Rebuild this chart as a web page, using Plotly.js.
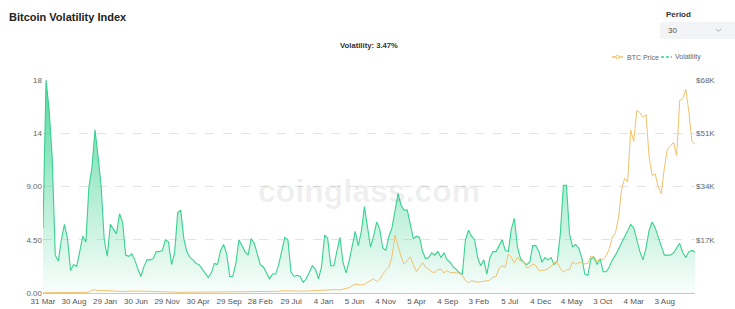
<!DOCTYPE html>
<html><head><meta charset="utf-8">
<script src="https://cdn.plot.ly/plotly-3.0.1.min.js"></script>
<style>html,body{margin:0;padding:0;background:#fff;}#chart{width:735px;height:309px;}</style>
</head><body><div id="chart"></div>
<script>
// ---- data ----
const startDate = '2013-03-31';
const stepDays = 15;
const volatility = [
5.5, 18, 15.5, 11.5, 3.2, 2.7, 4.5, 5.8, 4.6, 1.9,
2.4, 2.25, 3.5, 4.8, 4.3, 9, 10.6, 13.8, 11.5, 9,
4.5, 3.1, 5.8, 5.4, 5.0, 6.7, 6.0, 3.2, 3.1, 3.3,
2.8, 2.0, 1.4, 2.25, 2.8, 2.8, 2.9, 3.5, 3.5, 3.6,
4.5, 4.3, 2.4, 3.4, 6.8, 7.0, 4.6, 3.5, 3.0, 2.8,
2.5, 2.4, 2.0, 1.7, 1.3, 1.7, 2.5, 2.4, 3.6, 4.1,
3.3, 1.4, 1.4, 2.5, 4.5, 4.0, 3.5, 3.2, 4.6, 4.2,
3.2, 2.4, 2.2, 1.7, 1.2, 1.6, 1.6, 2.4, 3.7, 4.7,
4.5, 1.8, 1.4, 1.5, 1.4, 0.9, 1.2, 1.8, 2.3, 2.0,
1.2, 2.2, 4.9, 4.6, 2.3, 2.3, 3.6, 4.7, 2.6, 1.7,
2.7, 4.1, 5.2, 4.0, 5.2, 7.3, 5.5, 3.9, 4.8, 6.0,
5.4, 3.8, 3.6, 4.8, 5.5, 7.0, 8.4, 7.4, 7.0, 7.0,
5.8, 4.6, 4.8, 4.7, 3.5, 2.9, 3.0, 3.4, 3.2, 3.5,
3.0, 3.4, 2.8, 2.6, 2.2, 2.0, 1.7, 1.6, 4.5, 5.3,
4.8, 4.5, 3.0, 2.3, 2.8, 1.6, 3.0, 3.5, 3.5, 4.0,
4.5, 3.6, 3.5, 5.4, 6.3, 3.9, 2.9, 2.6, 2.4, 2.6,
4.0, 4.0, 3.5, 2.6, 3.0, 2.8, 3.0, 2.4, 2.7, 5.0,
9.1, 9.1, 5.0, 3.9, 4.1, 3.8, 3.0, 1.6, 1.5, 2.9,
3.0, 2.4, 2.9, 1.8, 1.8, 2.2, 2.8, 3.2, 3.7, 4.3,
4.7, 5.2, 5.8, 5.5, 4.5, 3.5, 2.8, 3.8, 5.3, 6.0,
5.5, 4.7, 4.1, 3.2, 3.2, 3.2, 3.4, 3.8, 4.2, 3.4,
3.0, 3.5, 3.6, 3.47
];
const btcPrice = [
93, 90, 140, 115, 130, 100, 95, 95, 100, 105,
125, 135, 135, 140, 190, 340, 900, 1000, 730, 850,
810, 680, 530, 630, 580, 380, 460, 450, 580, 660,
590, 620, 600, 590, 510, 480, 435, 330, 385, 340,
350, 375, 325, 275, 210, 225, 240, 275, 260, 255,
225, 235, 235, 225, 245, 260, 275, 280, 255, 230,
230, 238, 270, 325, 330, 360, 450, 430, 380, 380,
400, 435, 415, 415, 425, 450, 455, 530, 700, 650,
660, 655, 590, 570, 605, 600, 615, 675, 715, 740,
775, 895, 900, 920, 1050, 1170, 1100, 960, 1190, 1250,
1700, 2300, 2800, 2700, 2550, 2750, 3400, 4100, 4600, 3600,
4400, 6000, 7400, 8200, 11700, 18500, 15200, 11500, 9200, 10400,
11500, 9000, 6800, 8200, 9700, 8200, 7700, 6700, 6600, 7400,
7600, 6400, 7200, 6500, 6600, 6500, 6300, 5600, 4000, 3250,
3900, 3600, 3450, 3600, 3850, 3900, 4100, 5100, 5200, 7900,
8700, 8200, 12400, 11400, 9500, 11400, 10200, 10100, 8100, 8300,
9200, 8800, 7100, 7300, 7250, 7800, 8400, 9900, 9700, 7900,
6700, 7300, 7500, 9900, 9200, 9700, 9700, 9250, 9500, 11750,
11600, 10100, 10900, 10700, 11900, 14100, 17800, 19200, 23800, 33000,
36600, 35500, 52000, 48400, 58300, 57600, 56000, 57000, 43500, 37500,
38000, 33800, 31700, 40000, 46000, 47000, 48100, 43800, 61500, 62000,
65000, 57800, 48400, 47500
];
const tickDates = ['2013-03-31','2013-08-30','2014-01-29','2014-06-30','2014-11-29','2015-04-30','2015-09-29','2016-02-28','2016-07-29','2017-01-04','2017-06-05','2017-11-04','2018-04-05','2018-09-04','2019-02-03','2019-07-05','2019-12-04','2020-05-04','2020-10-03','2021-03-04','2021-08-03'];
const tickLabels = ['31 Mar','30 Aug','29 Jan','30 Jun','29 Nov','30 Apr','29 Sep','28 Feb','29 Jul','4 Jan','5 Jun','4 Nov','5 Apr','4 Sep','3 Feb','5 Jul','4 Dec','4 May','3 Oct','4 Mar','3 Aug'];
const volTickVals = [0, 4.5, 9, 13.5, 18];
const volTickText = ['0.00', '4.50', '9.00', '14', '18'];
const priceTickVals = [17000, 34000, 51000, 68000];
const priceTickText = ['$17K', '$34K', '$51K', '$68K'];
const currentVol = '3.47%';

// ---- build ----
const t0 = new Date(startDate + 'T00:00:00Z').getTime();
const dates = volatility.map((_, i) => new Date(t0 + i * stepDays * 86400000).toISOString().slice(0, 10));
const lastDate = dates[dates.length - 1];

const L = 43, R = 695, T = 80, B = 293;
const px = p => (p - L) / (R - L);
const py = p => (B - p) / (B - T);

const GREEN = '#38d190';
const ORANGE = '#f1c26c';

const traces = [
  {
    x: dates, y: volatility, type: 'scatter', mode: 'lines', name: 'Volatility',
    line: {color: GREEN, width: 1.1},
    fill: 'tozeroy',
    fillgradient: {type: 'vertical', start: 0, stop: 18,
      colorscale: [[0, 'rgba(56,209,144,0.03)'], [0.5, 'rgba(56,209,144,0.42)'], [1, 'rgba(56,209,144,0.88)']]},
    hoverinfo: 'skip'
  },
  {
    x: dates, y: btcPrice, type: 'scatter', mode: 'lines', name: 'BTC Price',
    line: {color: ORANGE, width: 1}, yaxis: 'y2', hoverinfo: 'skip'
  }
];

const font = 'Liberation Sans, Arial, sans-serif';
const layout = {
  width: 735, height: 309,
  margin: {l: L, r: 735 - R, t: T, b: 309 - B},
  paper_bgcolor: '#fff', plot_bgcolor: '#fff',
  showlegend: false,
  font: {family: font, size: 8, color: '#555'},
  xaxis: {
    type: 'date', range: [startDate, lastDate],
    tickvals: tickDates, ticktext: tickLabels, tickangle: 0,
    showgrid: false, zeroline: false, showline: true, linecolor: '#c8c8c8', linewidth: 1,
    ticks: '', tickfont: {size: 8, color: '#555'}
  },
  yaxis: {
    range: [0, 18], tickvals: volTickVals, ticktext: volTickText,
    showgrid: true, gridcolor: '#e4e4e4', griddash: 'dash', gridwidth: 1,
    zeroline: false, showline: false, ticks: '', tickfont: {size: 8, color: '#666'}
  },
  yaxis2: {
    overlaying: 'y', side: 'right', range: [0, 68000],
    tickvals: priceTickVals, ticktext: priceTickText,
    showgrid: false, zeroline: false, showline: false, ticks: '', tickfont: {size: 8, color: '#666'}
  },
  shapes: [
    {type: 'line', xref: 'paper', yref: 'paper', x0: px(612), x1: px(623), y0: py(57), y1: py(57), line: {color: ORANGE, width: 1.5}},
    {type: 'circle', xref: 'paper', yref: 'paper', x0: px(615.8), x1: px(619.2), y0: py(58.7), y1: py(55.3), fillcolor: '#fff', line: {color: ORANGE, width: 1}},
    {type: 'line', xref: 'paper', yref: 'paper', x0: px(661), x1: px(672), y0: py(57), y1: py(57), line: {color: GREEN, width: 1.5, dash: '3px,2px'}},
    {type: 'path', xref: 'paper', yref: 'paper', layer: 'below',
      path: `M ${px(663)} ${py(22)} L ${px(740)} ${py(22)} L ${px(740)} ${py(39)} L ${px(663)} ${py(39)} Q ${px(660)} ${py(39)} ${px(660)} ${py(36)} L ${px(660)} ${py(25)} Q ${px(660)} ${py(22)} ${px(663)} ${py(22)} Z`,
      fillcolor: '#f2f3f5', line: {width: 0}},
    {type: 'path', xref: 'paper', yref: 'paper',
      path: `M ${px(716)} ${py(29)} L ${px(718.5)} ${py(31.5)} L ${px(721)} ${py(29)}`,
      line: {color: '#aaa', width: 1}}
  ],
  annotations: [
    {text: '<b>Bitcoin Volatility Index</b>', xref: 'paper', yref: 'paper', x: px(7), y: py(17), xanchor: 'left', yanchor: 'middle', showarrow: false, font: {size: 11, color: '#222', family: font}},
    {text: '<b>Volatility: ' + currentVol + '</b>', xref: 'paper', yref: 'paper', x: px(369), y: py(45), xanchor: 'center', yanchor: 'middle', showarrow: false, font: {size: 7.7, color: '#333', family: font}},
    {text: 'BTC Price', xref: 'paper', yref: 'paper', x: px(625), y: py(57), xanchor: 'left', yanchor: 'middle', showarrow: false, font: {size: 7, color: '#666', family: font}},
    {text: 'Volatility', xref: 'paper', yref: 'paper', x: px(673), y: py(57), xanchor: 'left', yanchor: 'middle', showarrow: false, font: {size: 7, color: '#666', family: font}},
    {text: '<b>Period</b>', xref: 'paper', yref: 'paper', x: px(664), y: py(14), xanchor: 'left', yanchor: 'middle', showarrow: false, font: {size: 8, color: '#333', family: font}},
    {text: '30', xref: 'paper', yref: 'paper', x: px(666), y: py(30.5), xanchor: 'left', yanchor: 'middle', showarrow: false, font: {size: 8, color: '#555', family: font}},
    {text: '<b>coinglass.com</b>', xref: 'paper', yref: 'paper', x: px(369), y: py(191), xanchor: 'center', yanchor: 'middle', showarrow: false, font: {size: 32, color: 'rgba(0,0,0,0.07)', family: font}}
  ]
};

Plotly.newPlot('chart', traces, layout, {displayModeBar: false, staticPlot: true});
</script>
</body></html>
